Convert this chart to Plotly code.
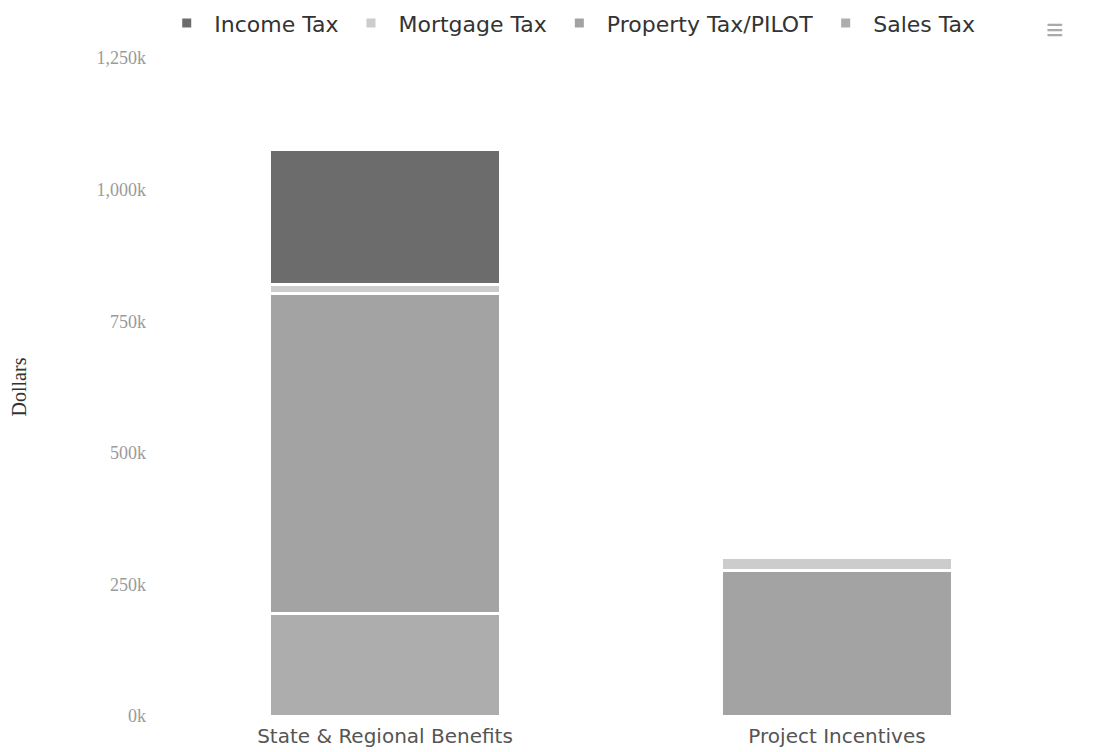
import plotly.graph_objects as go

categories = ["State & Regional Benefits", "Project Incentives"]
series_names = ["Income Tax", "Mortgage Tax", "Property Tax/PILOT", "Sales Tax"]
income_tax = [258000, 0]
mortgage_tax = [16000, 24000]
property_tax = [608000, 277000]
sales_tax = [195000, 0]
y_ticks = [0, 250000, 500000, 750000, 1000000, 1250000]
y_tick_labels = ["0k", "250k", "500k", "750k", "1,000k", "1,250k"]

colors = {"Income Tax": "#6c6c6c", "Mortgage Tax": "#cccccc",
          "Property Tax/PILOT": "#a3a3a3", "Sales Tax": "#adadad"}
values = {"Income Tax": income_tax, "Mortgage Tax": mortgage_tax,
          "Property Tax/PILOT": property_tax, "Sales Tax": sales_tax}

fig = go.Figure()
# stack bottom-up: Sales, Property, Mortgage, Income (legend keeps original order)
for name in reversed(series_names):
    fig.add_trace(go.Bar(
        x=categories, y=values[name], name=name,
        marker=dict(color=colors[name], line=dict(color="white", width=3)),
        legendrank=series_names.index(name) + 1,
    ))

fig.update_layout(
    barmode="stack",
    bargap=0.49,
    width=1102, height=752,
    margin=dict(l=159, r=39, t=58, b=36, autoexpand=False),
    paper_bgcolor="white", plot_bgcolor="white",
    showlegend=True,
    legend=dict(orientation="h", xref="container", yref="container",
                x=0.517, xanchor="center", y=0.997, yanchor="top",
                font=dict(family="DejaVu Sans", size=22, color="#333333"),
                traceorder="normal", itemwidth=45, bgcolor="rgba(0,0,0,0)"),
    xaxis=dict(showline=False, showgrid=False, ticks="", automargin=False,
               ticklabelstandoff=6,
               tickfont=dict(family="DejaVu Sans", size=20, color="#555555")),
    yaxis=dict(range=[0, 1250000], tickvals=y_ticks, ticktext=y_tick_labels,
               showgrid=False, zeroline=False, showline=False, ticks="",
               ticklabelstandoff=12, automargin=False,
               tickfont=dict(family="Liberation Serif", size=18, color="#9a9a9a"),
               title=dict(text="Dollars", font=dict(family="Liberation Serif", size=20, color="#333333"),
                          standoff=64)),
    annotations=[dict(text="≡", x=1052, y=28, xref="paper", yref="paper", showarrow=False,
                      font=dict(size=30, color="#aaaaaa"), xanchor="center", yanchor="middle")],
)
fig.layout.annotations[0].update(x=(1055 - 159) / 904, y=(716 - 28) / 658)

fig.write_html("out.html")
